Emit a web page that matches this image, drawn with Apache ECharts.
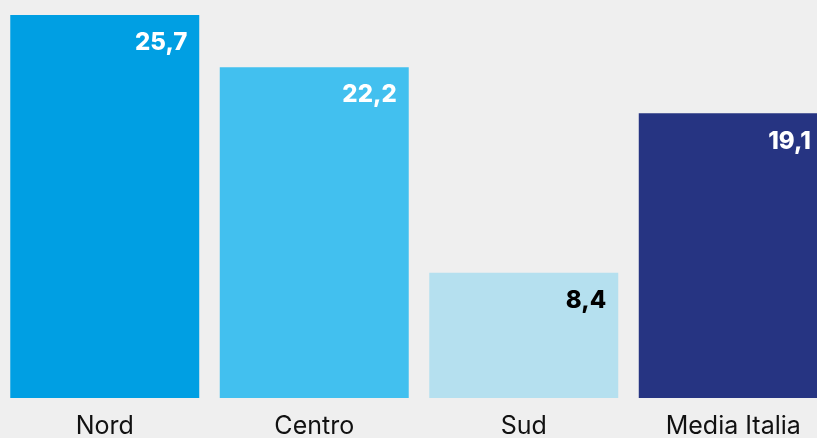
<!DOCTYPE html>
<html>
<head>
<meta charset="utf-8">
<script src="https://cdn.jsdelivr.net/npm/echarts@6/dist/echarts.min.js"></script>
<style>
  html, body { margin: 0; padding: 0; background: #efefef; }
  #chart { width: 817px; height: 438px; }
</style>
</head>
<body>
<div id="chart"></div>
<script>
// dati
var categories = ['Nord', 'Centro', 'Sud', 'Media Italia'];
var values = [25.7, 22.2, 8.4, 19.1];

// colori delle barre e delle etichette
var barColors = ['#009fe3', '#42c0ef', '#b5e0ef', '#263482'];
var labelColors = ['#ffffff', '#ffffff', '#000000', '#ffffff'];

var chart = echarts.init(document.getElementById('chart'));

var option = {
  backgroundColor: '#efefef',
  animation: false,
  grid: { left: 0, top: 15, bottom: 40, width: 838, outerBoundsMode: 'none', containLabel: false },
  xAxis: {
    type: 'category',
    data: categories,
    axisLine: { show: false },
    axisTick: { show: false },
    axisLabel: {
      color: '#111',
      fontFamily: 'Inter',
      fontSize: 25,
      margin: 16,
      interval: 0,
      hideOverlap: false
    }
  },
  yAxis: {
    type: 'value',
    min: 0,
    max: 25.7,
    show: false
  },
  series: [{
    type: 'bar',
    barCategoryGap: '9.8%',
    data: values.map(function (v, i) {
      return {
        value: v,
        itemStyle: { color: barColors[i] },
        // l'ultima barra esce dal riquadro, sposto un po' l'etichetta
        label: { color: labelColors[i], offset: i === 3 ? [-5, 4] : [0, 4] }
      };
    }),
    label: {
      show: true,
      position: 'insideTopRight',
      distance: 12,
      fontFamily: 'Inter',
      fontWeight: 800,
      fontSize: 24,
      formatter: function (p) {
        return p.value.toFixed(1).replace('.', ',');
      }
    }
  }]
};

chart.setOption(option);
</script>
</body>
</html>
